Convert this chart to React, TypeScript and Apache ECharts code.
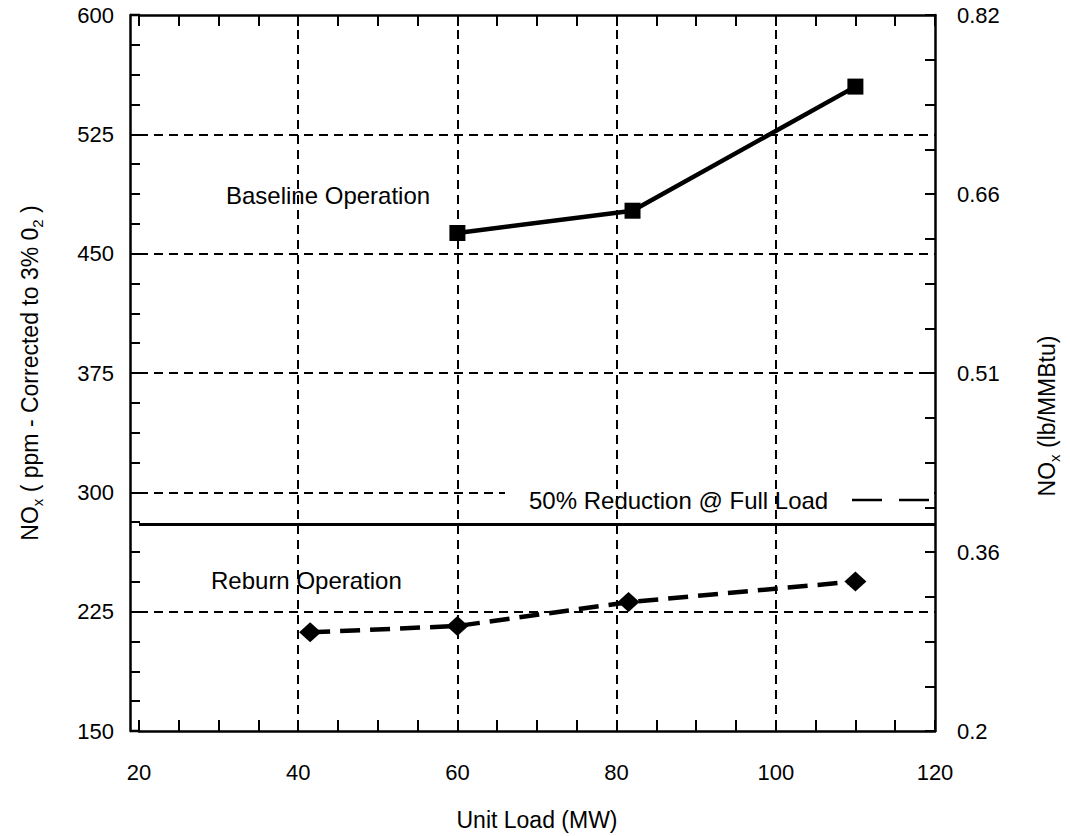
import React, { useEffect, useRef } from 'react';
import * as echarts from 'echarts';

const FONT = '"Liberation Sans", Arial, Helvetica, sans-serif';
const BLACK = '#000';

// Axis ranges
const xMin = 20;
const xMax = 120;
const xInterval = 20;
const yMin = 150;
const yMax = 600;
const yInterval = 75;

// Right axis: 16 tick steps, labelled every 4
const rightTickLabels = ['0.2', '0.36', '0.51', '0.66', '0.82'];

// Data
const baselineLoad = [60, 82, 110];
const baselineNOx = [463, 477, 555];
const reburnLoad = [41.5, 60, 81.5, 110];
const reburnNOx = [212, 216, 231, 244];
const fullLoadTarget = 280;

const subRich = {
  a: { fontSize: 23, fontFamily: FONT, color: BLACK, verticalAlign: 'top', lineHeight: 24 },
  s: { fontSize: 15, fontFamily: FONT, color: BLACK, verticalAlign: 'top', lineHeight: 15, padding: [12, 0, 0, 0] },
};

export default function App() {
  const ref = useRef<HTMLDivElement>(null);
  useEffect(() => {
    const chart = echarts.init(ref.current!, null, { renderer: 'svg' });
    const axisLineStyle = { color: BLACK, width: 2.5 };
    const tickStyle = { color: BLACK, width: 2 };
    const gridDash = { color: BLACK, width: 2, type: [9, 6] };
    chart.setOption({
      animation: false,
      backgroundColor: '#fff',
      textStyle: { fontFamily: FONT, color: BLACK },
      grid: { left: 139, right: 133, top: 15, bottom: 105 },
      xAxis: [
        {
          type: 'value', min: xMin, max: xMax, interval: xInterval, position: 'bottom',
          name: 'Unit Load (MW)', nameLocation: 'middle', nameGap: 77,
          nameTextStyle: { fontSize: 23, fontFamily: FONT, color: BLACK },
          axisLine: { show: true, onZero: false, lineStyle: axisLineStyle },
          axisTick: { show: true, inside: true, length: 11, lineStyle: tickStyle },
          minorTick: { show: true, splitNumber: 4, length: 11, lineStyle: tickStyle },
          axisLabel: { margin: 30, fontSize: 22, fontFamily: FONT, color: BLACK },
          splitLine: { show: true, showMinLine: false, showMaxLine: false, lineStyle: gridDash },
        },
        {
          type: 'value', min: xMin, max: xMax, interval: xInterval, position: 'top',
          axisLine: { show: true, onZero: false, lineStyle: axisLineStyle },
          axisTick: { show: true, inside: true, length: 11, lineStyle: tickStyle },
          minorTick: { show: true, splitNumber: 4, length: 11, lineStyle: tickStyle },
          axisLabel: { show: false },
          splitLine: { show: false },
        },
      ],
      yAxis: [
        {
          type: 'value', min: yMin, max: yMax, interval: yInterval, position: 'left', offset: 9,
          name: '{a|NO}{s|x}{a| ( ppm - Corrected to 3% 0}{s|2}{a| )}',
          nameLocation: 'middle', nameGap: 88, nameRotate: 90,
          nameTextStyle: { fontSize: 23, fontFamily: FONT, color: BLACK, rich: subRich },
          axisLine: { show: true, onZero: false, lineStyle: axisLineStyle },
          axisTick: { show: true, inside: true, length: 10, lineStyle: tickStyle },
          minorTick: { show: true, splitNumber: 4, length: 10, lineStyle: tickStyle },
          axisLabel: { margin: 16, fontSize: 22, fontFamily: FONT, color: BLACK },
          splitLine: { show: true, showMinLine: false, showMaxLine: false, lineStyle: gridDash },
        },
        {
          type: 'value', min: 0, max: 16, interval: 4, position: 'right',
          name: '{a|NO}{s|x}{a| (lb/MMBtu)}',
          nameLocation: 'middle', nameGap: 100, nameRotate: 90,
          nameTextStyle: { fontSize: 23, fontFamily: FONT, color: BLACK, rich: subRich, padding: [0, 86, 0, 0] },
          axisLine: { show: true, onZero: false, lineStyle: axisLineStyle },
          axisTick: { show: true, inside: true, length: 10, lineStyle: tickStyle },
          minorTick: { show: true, splitNumber: 4, length: 10, lineStyle: tickStyle },
          axisLabel: {
            margin: 22, fontSize: 22, fontFamily: FONT, color: BLACK,
            formatter: (v: number) => rightTickLabels[Math.round(v / 4)] ?? '',
          },
          splitLine: { show: false },
        },
      ],
      graphic: [
        { type: 'line', z: 10, shape: { x1: 130, y1: 15, x2: 140, y2: 15 }, style: { stroke: BLACK, lineWidth: 2.5 } },
        { type: 'line', z: 10, shape: { x1: 130, y1: 731, x2: 140, y2: 731 }, style: { stroke: BLACK, lineWidth: 2.5 } },
        { type: 'rect', z: 5, shape: { x: 505, y: 489, width: 428, height: 7 }, style: { fill: '#fff' } },
        {
          type: 'text', z: 10, x: 529, y: 500,
          style: { text: '50% Reduction @ Full Load', fontSize: 24, fontFamily: FONT, fill: BLACK, verticalAlign: 'middle' },
        },
        { type: 'line', z: 10, shape: { x1: 852, y1: 500, x2: 930, y2: 500 }, style: { stroke: BLACK, lineWidth: 2.5, lineDash: [30, 17] } },
        {
          type: 'text', z: 10, x: 226, y: 195,
          style: { text: 'Baseline Operation', fontSize: 24, fontFamily: FONT, fill: BLACK, verticalAlign: 'middle' },
        },
        {
          type: 'text', z: 10, x: 211, y: 580,
          style: { text: 'Reburn Operation', fontSize: 24, fontFamily: FONT, fill: BLACK, verticalAlign: 'middle' },
        },
      ],
      series: [
        {
          type: 'line', name: 'Baseline Operation', xAxisIndex: 0, yAxisIndex: 0,
          data: baselineLoad.map((x, i) => [x, baselineNOx[i]]),
          symbol: 'rect', symbolSize: 16,
          lineStyle: { color: BLACK, width: 4.5 },
          itemStyle: { color: BLACK },
          z: 3,
          markLine: {
            silent: true, symbol: ['none', 'none'], label: { show: false },
            lineStyle: { color: BLACK, width: 3, type: 'solid' },
            data: [{ yAxis: fullLoadTarget }],
          },
        },
        {
          type: 'line', name: 'Reburn Operation', xAxisIndex: 0, yAxisIndex: 0,
          data: reburnLoad.map((x, i) => [x, reburnNOx[i]]),
          symbol: 'diamond', symbolSize: [22, 20],
          lineStyle: { color: BLACK, width: 4.5, type: [20, 10] },
          itemStyle: { color: BLACK },
          z: 3,
        },
      ],
    });
    return () => chart.dispose();
  }, []);
  return (
    <div
      ref={ref}
      style={{ position: 'fixed', left: 0, top: 0, width: 1070, height: 836, background: '#fff' }}
    />
  );
}
